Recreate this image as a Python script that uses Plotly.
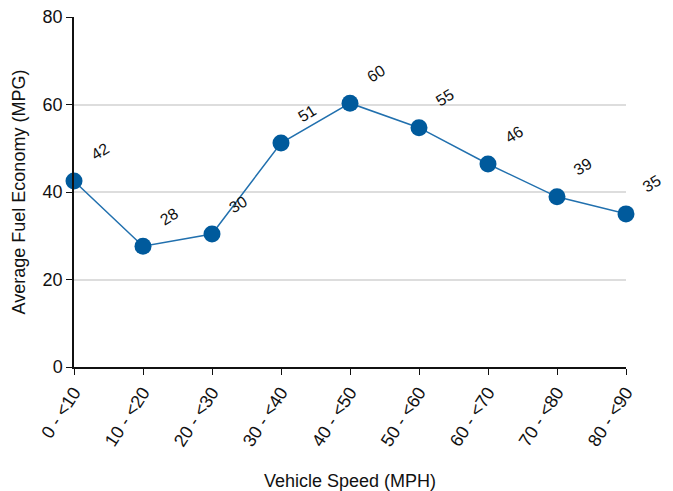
import plotly.graph_objects as go

categories = ["0 - <10", "10 - <20", "20 - <30", "30 - <40", "40 - <50",
              "50 - <60", "60 - <70", "70 - <80", "80 - <90"]
mpg = [42.5, 27.6, 30.4, 51.2, 60.3, 54.7, 46.4, 38.9, 35.0]
labels = ["42", "28", "30", "51", "60", "55", "46", "39", "35"]
y_ticks = [0, 20, 40, 60, 80]

FONT = "Liberation Sans, Arial, sans-serif"

fig = go.Figure()
fig.add_trace(go.Scatter(
    x=categories, y=mpg, mode="lines+markers",
    line=dict(color="#2170ae", width=1.5),
    marker=dict(color="#005a9c", size=17),
    cliponaxis=False, hoverinfo="x+y",
))

for c, v, t in zip(categories, mpg, labels):
    fig.add_annotation(x=c, y=v, text=t, showarrow=False, textangle=-32,
                       xshift=26, yshift=30,
                       font=dict(family=FONT, size=16, color="#111"))

fig.update_layout(
    width=673, height=491,
    margin=dict(l=74, r=47, t=17, b=124),
    paper_bgcolor="white", plot_bgcolor="white",
    showlegend=False,
    font=dict(family=FONT, size=18, color="#111"),
    xaxis=dict(
        type="category", range=[0, 8], tickangle=-57,
        showgrid=False, showline=True, linecolor="#111", linewidth=1.5,
        ticks="outside", ticklen=6, tickcolor="#111",
        tickfont=dict(size=18), automargin=False,
        title=dict(text="Vehicle Speed (MPH)", font=dict(size=18), standoff=25),
    ),
    yaxis=dict(
        range=[0, 80], tickvals=y_ticks,
        showgrid=True, gridcolor="#dddddd", gridwidth=2,
        showline=True, linecolor="#111", linewidth=1.5,
        ticks="outside", ticklen=6, tickcolor="#111",
        zeroline=False, tickfont=dict(size=18), automargin=False,
        title=dict(text="Average Fuel Economy (MPG)", font=dict(size=18), standoff=12),
    ),
)

fig.write_html("out.html", config={"displayModeBar": False},
               post_script="document.body.style.margin='0';")
